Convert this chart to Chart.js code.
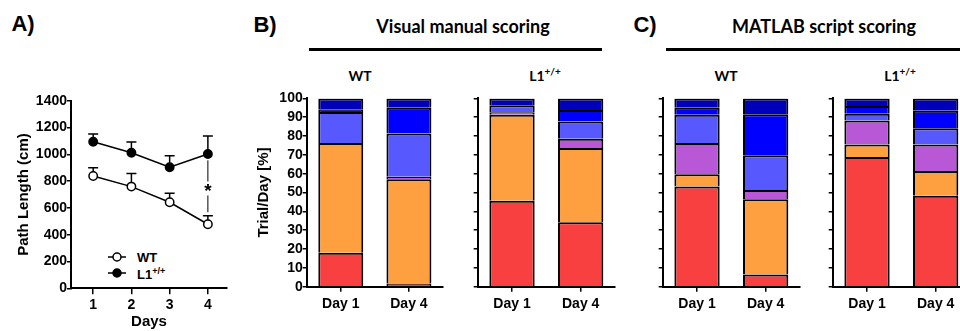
<!DOCTYPE html>
<html>
<head>
<meta charset="utf-8">
<script src="https://cdn.jsdelivr.net/npm/chart.js@4/dist/chart.umd.min.js"></script>
<style>
  html, body { margin: 0; padding: 0; background: #fff; overflow: hidden; }
  body { width: 960px; height: 331px; position: relative; font-family: "Liberation Sans", Arial, sans-serif; }
  canvas { position: absolute; }
  .lbl { position: absolute; transform: translate(-50%, -50%); white-space: nowrap; line-height: 1; font-weight: bold; color: #000; }
  .panel { font-family: "Liberation Sans", Arial, sans-serif; font-size: 22px; }
  .head { font-family: Lato, "Open Sans", sans-serif; font-size: 18px; }
  .grp { font-family: Lato, "Open Sans", sans-serif; font-size: 14px; }
  .grp sup { font-size: 10px; vertical-align: 6px; line-height: 0; }
  .leg { position: absolute; transform: translateY(-50%); font-size: 13px; font-weight: bold; line-height: 1; }
  .leg sup { font-size: 9px; vertical-align: 5px; line-height: 0; }
  .rule { position: absolute; height: 2.5px; background: #000; }
</style>
</head>
<body>

<div class="lbl panel" style="left:23px;top:24px">A)</div>
<div class="lbl panel" style="left:265px;top:25px">B)</div>
<div class="lbl panel" style="left:645px;top:25px">C)</div>
<div class="lbl head" style="left:463px;top:26px">Visual manual scoring</div>
<div class="lbl head" style="left:824px;top:26px">MATLAB script scoring</div>
<div class="rule" style="left:309px;width:293px;top:48px"></div>
<div class="rule" style="left:666px;width:294px;top:48px"></div>
<div class="lbl grp" style="left:360px;top:76px">WT</div>
<div class="lbl grp" style="left:545px;top:76px">L1<sup>+/+</sup></div>
<div class="lbl grp" style="left:726px;top:76px">WT</div>
<div class="lbl grp" style="left:900px;top:76px">L1<sup>+/+</sup></div>
<div class="leg" style="left:137px;top:257px">WT</div>
<div class="leg" style="left:137px;top:274px">L1<sup>+/+</sup></div>

<canvas id="chartA" width="240" height="241" style="left:0;top:90px"></canvas>
<canvas id="visWT" width="206" height="241" style="left:240px;top:90px"></canvas>
<canvas id="visL1" width="175" height="241" style="left:445px;top:90px"></canvas>
<canvas id="matWT" width="175" height="241" style="left:630px;top:90px"></canvas>
<canvas id="matL1" width="175" height="241" style="left:800px;top:90px"></canvas>

<script>
// --- Panel A: path length per day ---
const days = [1, 2, 3, 4];
const wtPath = [838, 759, 642, 478];
const wtErr = [62, 97, 67, 64];
const l1Path = [1094, 1012, 903, 1002];
const l1Err = [58, 80, 87, 135];

// significance marker at day 4 (from, to, star position)
const sigFrom = 955, sigTo = 568, sigStar = 745;

// --- Panels B and C: stacked trial categories (bottom -> top) ---
const dayLabels = ['Day 1', 'Day 4'];
const layerColors = ['#F84040', '#FFA040', '#B858D6', '#5858FF', '#0000FF', '#0000B8'];

// Visual manual scoring
const visWT_day1 = [18.0, 58.3, 0.0, 16.5, 1.4, 5.8];
const visWT_day4 = [1.7, 55.3, 1.4, 22.9, 13.7, 5.0];
const visL1_day1 = [45.6, 45.7, 1.3, 3.7, 0.2, 3.5];
const visL1_day4 = [34.2, 39.5, 4.9, 9.1, 6.2, 6.1];

// MATLAB script scoring
const matWT_day1 = [53.2, 6.5, 16.6, 15.0, 3.8, 4.9];
const matWT_day4 = [6.5, 40.0, 4.9, 18.4, 21.8, 8.4];
const matL1_day1 = [68.9, 6.6, 12.8, 3.6, 4.1, 4.0];
const matL1_day4 = [48.3, 13.1, 14.1, 8.7, 9.3, 6.5];

const yTicksPct = [0, 10, 20, 30, 40, 50, 60, 70, 80, 90, 100];
const yTicksPath = [0, 200, 400, 600, 800, 1000, 1200, 1400];

const axisFont = { family: '"Liberation Sans", Arial, sans-serif', size: 14, weight: 'bold' };
const titleFont = { family: '"Liberation Sans", Arial, sans-serif', size: 15, weight: 'bold' };

// --- Error bars (upper whisker only) + significance + legend marks ---
const errorBarPlugin = {
    id: 'errorBars',
    beforeDatasetsDraw(chart) {
        const { ctx, scales: { x, y } } = chart;
        ctx.save();
        ctx.strokeStyle = '#000';
        ctx.lineWidth = 1.5;
        chart.data.datasets.forEach(ds => {
            ds.data.forEach((p, i) => {
                const px = x.getPixelForValue(p.x);
                const y0 = y.getPixelForValue(p.y);
                const y1 = y.getPixelForValue(p.y + ds.errors[i]);
                ctx.beginPath();
                ctx.moveTo(px, y0);
                ctx.lineTo(px, y1);
                ctx.moveTo(px - 5, y1);
                ctx.lineTo(px + 5, y1);
                ctx.stroke();
            });
        });
        ctx.restore();
    },
    afterDatasetsDraw(chart) {
        const { ctx, scales: { x, y }, chartArea } = chart;
        ctx.save();
        // significance line at day 4
        const px = x.getPixelForValue(days[3]);
        const starY = y.getPixelForValue(sigStar);
        ctx.strokeStyle = '#000';
        ctx.lineWidth = 1;
        ctx.beginPath();
        ctx.moveTo(px, y.getPixelForValue(sigFrom));
        ctx.lineTo(px, starY - 7);
        ctx.moveTo(px, starY + 7);
        ctx.lineTo(px, y.getPixelForValue(sigTo));
        ctx.stroke();
        ctx.fillStyle = '#000';
        ctx.font = 'bold 19px "Liberation Sans", Arial, sans-serif';
        ctx.textAlign = 'center';
        ctx.textBaseline = 'middle';
        ctx.fillText('*', px, starY + 3);

        // legend samples
        const lx = chartArea.left + 37, ly = [167, 183];
        chart.data.datasets.forEach((ds, k) => {
            ctx.lineWidth = 1.5;
            ctx.beginPath();
            ctx.moveTo(lx, ly[k]);
            ctx.lineTo(lx + 18, ly[k]);
            ctx.stroke();
            ctx.beginPath();
            ctx.arc(lx + 9, ly[k], 4, 0, Math.PI * 2);
            ctx.fillStyle = ds.pointBackgroundColor;
            ctx.fill();
            ctx.stroke();
        });
        ctx.restore();
    }
};

new Chart(document.getElementById('chartA'), {
    type: 'line',
    data: {
        datasets: [
            {
                label: 'WT',
                data: days.map((d, i) => ({ x: d, y: wtPath[i] })),
                errors: wtErr,
                borderColor: '#000', borderWidth: 1.5,
                pointRadius: 4.2, pointBorderWidth: 1.5,
                pointBackgroundColor: '#fff', pointBorderColor: '#000'
            },
            {
                label: 'L1+/+',
                data: days.map((d, i) => ({ x: d, y: l1Path[i] })),
                errors: l1Err,
                borderColor: '#000', borderWidth: 1.5,
                pointRadius: 4.2, pointBorderWidth: 1.5,
                pointBackgroundColor: '#000', pointBorderColor: '#000'
            }
        ]
    },
    options: {
        responsive: false,
        animation: false,
        layout: { padding: { left: 15, top: 10.7, right: 13, bottom: 0 } },
        plugins: { legend: { display: false }, tooltip: { enabled: false } },
        scales: {
            x: {
                type: 'linear', min: 0.42, max: 4.5,
                afterBuildTicks: s => { s.ticks = days.map(v => ({ value: v })); },
                afterFit: s => { s.height = 42.7; },
                grid: { drawOnChartArea: false, color: '#000', lineWidth: 1.5, tickLength: 6 },
                border: { color: '#000', width: 2 },
                ticks: { color: '#000', font: axisFont, padding: 2, callback: v => String(v) },
                title: { display: true, text: 'Days', color: '#000', font: titleFont, padding: { top: 0, bottom: 0.5 } }
            },
            y: {
                min: 0, max: 1400,
                afterBuildTicks: s => { s.ticks = yTicksPath.map(v => ({ value: v })); },
                afterFit: s => { s.width = 56; },
                grid: { drawOnChartArea: false, color: '#000', lineWidth: 1.5, tickLength: 4 },
                border: { color: '#000', width: 2 },
                ticks: { color: '#000', font: axisFont, padding: 0, autoSkip: false, callback: v => String(v) },
                title: { display: true, text: 'Path Length (cm)', color: '#000', font: titleFont, padding: { top: 0, bottom: 0 } }
            }
        }
    },
    plugins: [errorBarPlugin]
});

// --- Stacked bar panels ---
function stackedPanel(id, day1, day4, showLabels) {
    const datasets = layerColors.map((c, k) => ({
        data: [day1[k], day4[k]],
        backgroundColor: c,
        borderColor: '#000',
        borderWidth: 2,
        borderSkipped: 'start',
        categoryPercentage: 0.66,
        barPercentage: 1
    }));
    new Chart(document.getElementById(id), {
        type: 'bar',
        data: { labels: dayLabels, datasets: datasets },
        options: {
            responsive: false,
            animation: false,
            layout: { padding: { left: showLabels ? 15 : 0, top: 6.7, right: showLabels ? 3 : 5, bottom: 14.3 } },
            plugins: { legend: { display: false }, tooltip: { enabled: false } },
            scales: {
                x: {
                    stacked: true,
                    afterFit: s => { s.height = 30; },
                    grid: { drawOnChartArea: false, offset: false, color: '#000', lineWidth: 1.5, tickLength: 5 },
                    border: { color: '#000', width: 2 },
                    ticks: { color: '#000', font: axisFont, padding: 4 }
                },
                y: {
                    stacked: true, min: 0, max: 100,
                    afterBuildTicks: s => { s.ticks = yTicksPct.map(v => ({ value: v })); },
                    afterFit: s => { s.width = showLabels ? 51.7 : 32.7; },
                    grid: { drawOnChartArea: false, color: '#000', lineWidth: 1.5, tickLength: 4 },
                    border: { color: '#000', width: 2 },
                    ticks: { color: '#000', font: axisFont, padding: 0, autoSkip: false, callback: v => showLabels ? v : '' },
                    title: { display: showLabels, text: 'Trial/Day [%]', color: '#000', font: titleFont, padding: { top: 0, bottom: 0 } }
                }
            }
        }
    });
}

stackedPanel('visWT', visWT_day1, visWT_day4, true);
stackedPanel('visL1', visL1_day1, visL1_day4, false);
stackedPanel('matWT', matWT_day1, matWT_day4, false);
stackedPanel('matL1', matL1_day1, matL1_day4, false);
</script>
</body>
</html>
